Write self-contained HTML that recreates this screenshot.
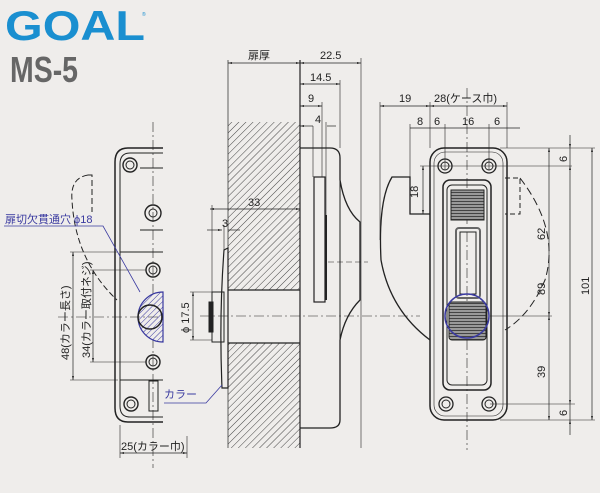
<!DOCTYPE html>
<html><head><meta charset="utf-8"><style>
html,body{margin:0;padding:0;background:#efedeb}
svg{display:block}
text{font-family:"Liberation Sans","Noto Sans CJK JP",sans-serif;font-size:11px;fill:#222}
</style></head><body>
<svg width="600" height="493" viewBox="0 0 600 493" xmlns="http://www.w3.org/2000/svg">
<defs>
<pattern id="h" width="5" height="5" patternUnits="userSpaceOnUse" patternTransform="rotate(45)">
<rect width="5" height="5" fill="#efedeb"/><line x1="0" y1="0" x2="0" y2="5" stroke="#444" stroke-width="1"/></pattern>
<pattern id="hb" width="4" height="4" patternUnits="userSpaceOnUse" patternTransform="rotate(45)">
<rect width="4" height="4" fill="#efedeb"/><line x1="0" y1="0" x2="0" y2="4" stroke="#3a3aa0" stroke-width="1"/></pattern>
<pattern id="hs" width="4" height="3" patternUnits="userSpaceOnUse">
<rect width="4" height="3" fill="#999"/><line x1="0" y1="0.5" x2="4" y2="0.5" stroke="#444" stroke-width="1"/></pattern>
<marker id="a" markerWidth="6" markerHeight="6" refX="6" refY="3" orient="auto-start-reverse"><path d="M0,1.5 L6,3 L0,4.5Z" fill="#222"/></marker>
</defs>
<rect width="600" height="493" fill="#efedeb"/>
<text x="5" y="40" style="font-size:42px;font-weight:bold;fill:#1a8fd0" textLength="140" lengthAdjust="spacingAndGlyphs">GOAL</text>
<text x="142" y="16" style="font-size:5px;fill:#1a8fd0">®</text>
<text x="10" y="82" style="font-size:36px;font-weight:bold;fill:#666" textLength="68" lengthAdjust="spacingAndGlyphs">MS-5</text>

<g stroke="#222" fill="none" stroke-width="1">
<!-- left view -->
<line x1="153" y1="122" x2="153" y2="468" stroke-dasharray="10,3,2,3" stroke-width="0.6"/>
<path d="M163 148 H128 Q115 148 115 162 V408 Q115 422 128 422 H163" stroke-width="1.5"/>
<path d="M163 153 H130 Q120 153 120 164 V406 Q120 417 130 417 H163"/>
<circle cx="130" cy="165" r="7" stroke-width="1.4"/><circle cx="130" cy="165" r="4"/>
<circle cx="153" cy="213" r="8" stroke-width="1.4"/><circle cx="153" cy="213" r="4"/>
<circle cx="153" cy="270" r="7" stroke-width="1.4"/><circle cx="153" cy="270" r="4"/>
<circle cx="153" cy="362" r="7" stroke-width="1.4"/><circle cx="153" cy="362" r="4"/>
<circle cx="131" cy="404" r="7" stroke-width="1.4"/><circle cx="131" cy="404" r="4"/>
<path d="M163 252 H120 M163 380 H120"/>
<path d="M163 168 H140 M163 230 H140"/>
<rect x="149" y="381" width="9" height="30"/>
<path d="M163 292 A25 25 0 1 0 163 342 Z" fill="url(#hb)" stroke="#3a3aa0" stroke-width="1.2"/>
<circle cx="150" cy="317" r="12" stroke-width="1.5"/>
<path d="M88 175 Q70 178 72 200 Q75 260 117 300" stroke-dasharray="6,3"/>
<path d="M88 175 H92 V212" stroke-dasharray="6,3"/>
<line x1="73" y1="252" x2="73" y2="380" marker-start="url(#a)" marker-end="url(#a)" stroke-width="0.7"/>
<line x1="70" y1="252" x2="118" y2="252" stroke-width="0.6"/><line x1="70" y1="380" x2="118" y2="380" stroke-width="0.6"/>
<line x1="93" y1="270" x2="93" y2="362" marker-start="url(#a)" marker-end="url(#a)" stroke-width="0.7"/>
<line x1="90" y1="270" x2="146" y2="270" stroke-width="0.6"/><line x1="90" y1="362" x2="146" y2="362" stroke-width="0.6"/>
<line x1="120" y1="425" x2="120" y2="458" stroke-width="0.6"/><line x1="187" y1="436" x2="187" y2="458" stroke-width="0.6"/>
<line x1="120" y1="453" x2="187" y2="453" marker-start="url(#a)" marker-end="url(#a)" stroke-width="0.7"/>
<line x1="58" y1="317" x2="163" y2="317" stroke-dasharray="10,3,2,3" stroke-width="0.6"/>

<!-- door -->
<rect x="228" y="122" width="72" height="168" fill="url(#h)" stroke="none"/>
<rect x="228" y="343" width="72" height="105" fill="url(#h)" stroke="none"/>
<line x1="228" y1="60" x2="228" y2="448" stroke-width="0.7"/>
<line x1="300" y1="60" x2="300" y2="448" stroke-width="1.2"/>
<path d="M228 290 H300 M228 343 H300" stroke-width="1.3"/>
<path d="M222 388 Q219 317 224 250 L228 248 V388 Z" stroke-width="1.2"/>
<rect x="212" y="292" width="12" height="50"/>
<rect x="209" y="302" width="4" height="30" fill="#222"/>
<path d="M300 148 H330 Q340 148 340 158 V180 Q345 210 360 222 V300 Q345 315 340 340 V420 Q340 428 330 428 H300" stroke-width="1.3"/>
<line x1="340" y1="180" x2="340" y2="340"/>
<rect x="314" y="177" width="11" height="125" stroke-width="1.2"/>
<line x1="326" y1="215" x2="326" y2="300" stroke-width="2"/>
<line x1="200" y1="316" x2="420" y2="316" stroke-dasharray="10,3,2,3" stroke-width="0.6"/>
<line x1="328" y1="262" x2="368" y2="262" stroke-dasharray="6,3" stroke-width="0.6"/>
<line x1="228" y1="63" x2="300" y2="63" marker-start="url(#a)" marker-end="url(#a)" stroke-width="0.7"/>
<line x1="300" y1="63" x2="361" y2="63" marker-start="url(#a)" marker-end="url(#a)" stroke-width="0.7"/>
<line x1="361" y1="58" x2="361" y2="448" stroke-width="0.6"/>
<line x1="300" y1="84" x2="340" y2="84" marker-start="url(#a)" marker-end="url(#a)" stroke-width="0.7"/>
<line x1="340" y1="80" x2="340" y2="148" stroke-width="0.6"/>
<line x1="300" y1="106" x2="322" y2="106" marker-start="url(#a)" marker-end="url(#a)" stroke-width="0.7"/>
<line x1="322" y1="102" x2="322" y2="177" stroke-width="0.6"/>
<line x1="313" y1="126" x2="300" y2="126" marker-end="url(#a)" stroke-width="0.7"/>
<line x1="327" y1="126" x2="336" y2="126" stroke-width="0.7"/>
<line x1="313" y1="126" x2="313" y2="177" stroke-width="0.6"/><line x1="326" y1="122" x2="326" y2="215" stroke-width="0.6"/>
<line x1="210" y1="209" x2="300" y2="209" marker-start="url(#a)" marker-end="url(#a)" stroke-width="0.7"/>
<line x1="212" y1="205" x2="212" y2="292" stroke-width="0.6"/>
<line x1="207" y1="230" x2="222" y2="230" marker-end="url(#a)" stroke-width="0.7"/>
<line x1="228" y1="230" x2="240" y2="230" stroke-width="0.7"/>
<line x1="224" y1="225" x2="224" y2="250" stroke-width="0.6"/>
<line x1="193" y1="292" x2="193" y2="340" marker-start="url(#a)" marker-end="url(#a)" stroke-width="0.7"/>
<line x1="190" y1="292" x2="212" y2="292" stroke-width="0.6"/><line x1="190" y1="340" x2="212" y2="340" stroke-width="0.6"/>

<!-- right view -->
<line x1="467" y1="88" x2="467" y2="450" stroke-dasharray="10,3,2,3" stroke-width="0.6"/>
<rect x="430" y="148" width="77" height="272" rx="14" stroke-width="1.5"/>
<rect x="434" y="152" width="69" height="264" rx="11" stroke-width="0.6"/>
<circle cx="445" cy="166" r="7" stroke-width="1.3"/><circle cx="445" cy="166" r="4"/>
<circle cx="489" cy="166" r="7" stroke-width="1.3"/><circle cx="489" cy="166" r="4"/>
<circle cx="446" cy="404" r="7" stroke-width="1.3"/><circle cx="446" cy="404" r="4"/>
<circle cx="489" cy="404" r="7" stroke-width="1.3"/><circle cx="489" cy="404" r="4"/>
<rect x="443" y="180" width="48" height="210" rx="7" stroke-width="1.5"/>
<rect x="447" y="185" width="40" height="200" rx="5"/>
<rect x="451" y="190" width="33" height="30" fill="url(#hs)"/>
<rect x="456" y="228" width="24" height="70" rx="3" stroke="#666" stroke-width="2"/>
<rect x="460" y="232" width="16" height="62"/>
<rect x="449" y="302" width="37" height="38" rx="3" fill="url(#hs)"/>
<circle cx="467" cy="316" r="22" fill="none" stroke="#3a3aa0" stroke-width="1.5"/>
<path d="M430 214 H410 V177 H392 Q378 200 381 260 Q390 310 430 340" stroke-width="1.3"/>
<path d="M505 178 H520 V214 H505" stroke-dasharray="5,3"/>
<path d="M520 178 Q560 230 545 280 Q530 315 505 330" stroke-dasharray="8,4"/>
<line x1="380" y1="106" x2="430" y2="106" marker-start="url(#a)" marker-end="url(#a)" stroke-width="0.7"/>
<line x1="430" y1="106" x2="507" y2="106" marker-start="url(#a)" marker-end="url(#a)" stroke-width="0.7"/>
<line x1="380" y1="102" x2="380" y2="240" stroke-width="0.6"/>
<line x1="430" y1="102" x2="430" y2="148" stroke-width="0.6"/>
<line x1="507" y1="102" x2="507" y2="148" stroke-width="0.6"/>
<line x1="410" y1="128" x2="520" y2="128" stroke-width="0.7"/>
<line x1="410" y1="124" x2="410" y2="177" stroke-width="0.6"/>
<line x1="445" y1="124" x2="445" y2="170" stroke-width="0.6"/><line x1="489" y1="124" x2="489" y2="170" stroke-width="0.6"/>
<line x1="423" y1="214" x2="423" y2="166" marker-start="url(#a)" marker-end="url(#a)" stroke-width="0.7"/>
<line x1="420" y1="166" x2="572" y2="166" stroke-width="0.6"/>
<line x1="500" y1="148" x2="595" y2="148" stroke-width="0.6"/>
<line x1="500" y1="420" x2="595" y2="420" stroke-width="0.6"/>
<line x1="490" y1="404" x2="575" y2="404" stroke-width="0.6"/>
<line x1="490" y1="316" x2="552" y2="316" stroke-width="0.6"/>
<line x1="549" y1="148" x2="549" y2="316" marker-start="url(#a)" marker-end="url(#a)" stroke-width="0.7"/>
<line x1="549" y1="316" x2="549" y2="420" marker-start="url(#a)" marker-end="url(#a)" stroke-width="0.7"/>
<line x1="570" y1="135" x2="570" y2="148" marker-end="url(#a)" stroke-width="0.7"/>
<line x1="570" y1="148" x2="570" y2="166" stroke-width="0.7"/>
<line x1="570" y1="166" x2="570" y2="404" marker-start="url(#a)" marker-end="url(#a)" stroke-width="0.7"/>
<line x1="570" y1="404" x2="570" y2="420" stroke-width="0.7"/>
<line x1="570" y1="435" x2="570" y2="420" marker-end="url(#a)" stroke-width="0.7"/>
<line x1="592" y1="148" x2="592" y2="420" marker-start="url(#a)" marker-end="url(#a)" stroke-width="0.7"/>
</g>
<g stroke="#3a3aa0" fill="none" stroke-width="0.8">
<path d="M4 226 H103 L140 292"/>
<path d="M164 403 H206 L222 385"/>
</g>
<text x="5" y="223" style="fill:#3a3aa0">扉切欠貫通穴 ϕ18</text>
<text x="164" y="398" style="fill:#3a3aa0">カラー</text>
<text x="248" y="59">扉厚</text>
<text x="320" y="59">22.5</text>
<text x="310" y="81">14.5</text>
<text x="308" y="102">9</text>
<text x="315" y="123">4</text>
<text x="248" y="206">33</text>
<text x="222" y="227">3</text>
<text x="399" y="102">19</text>
<text x="434" y="102">28(ケース巾)</text>
<text x="417" y="125">8</text>
<text x="434" y="125">6</text>
<text x="462" y="125">16</text>
<text x="494" y="125">6</text>
<text x="121" y="450">25(カラー巾)</text>
<text transform="translate(69,360) rotate(-90)">48(カラー長さ)</text>
<text transform="translate(90,358) rotate(-90)">34(カラー取付ネジ)</text>
<text transform="translate(189,333) rotate(-90)">ϕ 17.5</text>
<text transform="translate(418,198) rotate(-90)">18</text>
<text transform="translate(545,240) rotate(-90)">62</text>
<text transform="translate(545,295) rotate(-90)">89</text>
<text transform="translate(545,378) rotate(-90)">39</text>
<text transform="translate(567,162) rotate(-90)">6</text>
<text transform="translate(567,416) rotate(-90)">6</text>
<text transform="translate(589,295) rotate(-90)">101</text>
</svg>
</body></html>
